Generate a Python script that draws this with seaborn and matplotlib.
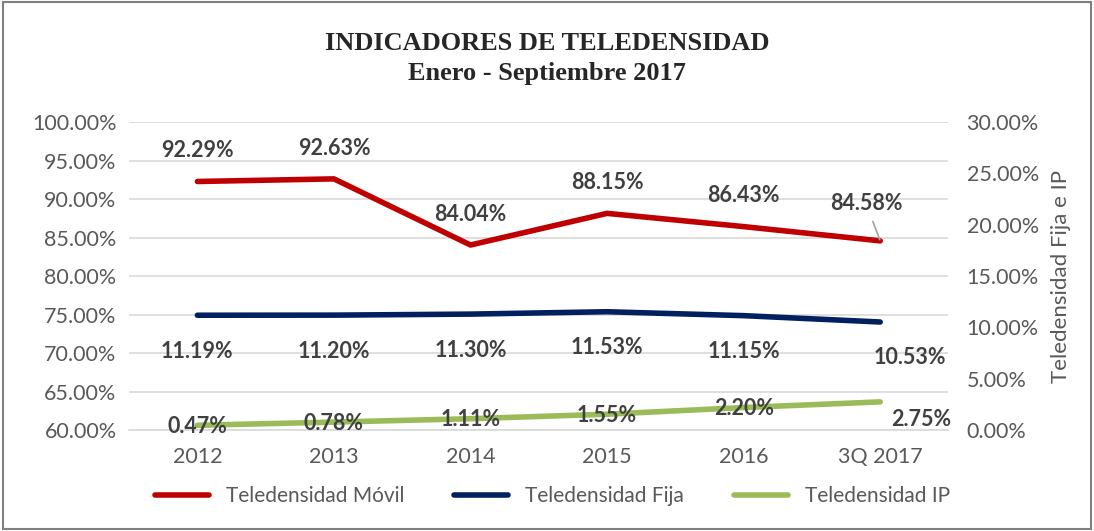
import seaborn as sns
import matplotlib.pyplot as plt
import pandas as pd
from matplotlib.ticker import PercentFormatter
from matplotlib.patches import Rectangle

categories = ["2012", "2013", "2014", "2015", "2016", "3Q 2017"]
movil = [92.29, 92.63, 84.04, 88.15, 86.43, 84.58]
fija = [11.19, 11.20, 11.30, 11.53, 11.15, 10.53]
ip = [0.47, 0.78, 1.11, 1.55, 2.20, 2.75]

c_movil = "#C00000"
c_fija = "#002060"
c_ip = "#9BBB59"
tick_col = "#595959"
lab_col = "#404040"

sns.set_theme(style="white")
plt.rcParams["font.family"] = ["Lato", "DejaVu Sans"]

df = pd.DataFrame({"x": range(len(categories)), "movil": movil, "fija": fija, "ip": ip})

fig = plt.figure(figsize=(10.94, 5.31), dpi=100)
ax = fig.add_axes([0.118, 0.19, 0.749, 0.58])
ax2 = ax.twinx()

sns.lineplot(data=df, x="x", y="movil", ax=ax, color=c_movil, linewidth=4,
             solid_capstyle="round", label="Teledensidad Móvil", legend=False)
sns.lineplot(data=df, x="x", y="fija", ax=ax2, color=c_fija, linewidth=4,
             solid_capstyle="round", label="Teledensidad Fija", legend=False)
sns.lineplot(data=df, x="x", y="ip", ax=ax2, color=c_ip, linewidth=4,
             solid_capstyle="round", label="Teledensidad IP", legend=False)

ax.set_xlim(-0.5, len(categories) - 0.5)
ax.set_ylim(60, 100)
ax2.set_ylim(0, 30)
ax.set_yticks(range(60, 101, 5))
ax2.set_yticks(range(0, 31, 5))
ax.yaxis.set_major_formatter(PercentFormatter(decimals=2))
ax2.yaxis.set_major_formatter(PercentFormatter(decimals=2))
ax.set_xticks(range(len(categories)))
ax.set_xticklabels(categories)
ax.set_xlabel("")
ax.set_ylabel("")
ax2.set_ylabel("Teledensidad Fija e IP", fontsize=16, color=tick_col, labelpad=9)

ax.grid(axis="y", color="#D9D9D9", linewidth=1.2)
ax.set_axisbelow(True)
for a in (ax, ax2):
    for s in a.spines.values():
        s.set_visible(False)
    a.tick_params(axis="both", labelsize=15.5, colors=tick_col, length=0, pad=9)
ax2.tick_params(axis="y", pad=13)
ax.spines["bottom"].set_visible(True)
ax.spines["bottom"].set_color("#D9D9D9")
ax.spines["bottom"].set_linewidth(1.2)
ax.tick_params(axis="x", pad=12)

lab_kw = dict(fontsize=15.5, fontweight="bold", color=lab_col, ha="center")
for i, v in enumerate(movil):
    if i == len(movil) - 1:
        ax.annotate(f"{v:.2f}%", xy=(i, v), xytext=(i - 0.1, v + 4.8),
                    va="center", arrowprops=dict(arrowstyle="-", color="#A6A6A6", lw=1.3,
                                                 shrinkA=3, shrinkB=1,
                                                 relpos=(0.55, 0.0)), **lab_kw)
    else:
        ax.text(i, v + 4.0, f"{v:.2f}%", va="center", **lab_kw)
for i, v in enumerate(fija):
    dx = 0.22 if i == len(fija) - 1 else 0
    ax2.text(i + dx, v - 3.5, f"{v:.2f}%", va="center", **lab_kw)
for i, v in enumerate(ip):
    if i == len(ip) - 1:
        ax2.text(i + 0.3, v - 1.7, f"{v:.2f}%", va="center", **lab_kw)
    else:
        ax2.text(i, v - 0.1, f"{v:.2f}%", va="center", **lab_kw)

fig.text(0.5, 0.918, "INDICADORES DE TELEDENSIDAD", ha="center", va="center",
         fontsize=19, fontweight="bold", family="Liberation Serif")
fig.text(0.5, 0.862, "Enero - Septiembre 2017", ha="center", va="center",
         fontsize=19, fontweight="bold", family="Liberation Serif")

h1, l1 = ax.get_legend_handles_labels()
h2, l2 = ax2.get_legend_handles_labels()
fig.legend(h1 + h2, l1 + l2, loc="center", bbox_to_anchor=(0.505, 0.065), ncol=3,
           frameon=False, fontsize=15, labelcolor=tick_col, handlelength=2.6,
           columnspacing=2.4)

fig.patches.append(Rectangle((0.003, 0.003), 0.994, 0.994, transform=fig.transFigure,
                             fill=False, edgecolor="#7F7F7F", linewidth=1.5))

fig.savefig("out.png", dpi=100)
